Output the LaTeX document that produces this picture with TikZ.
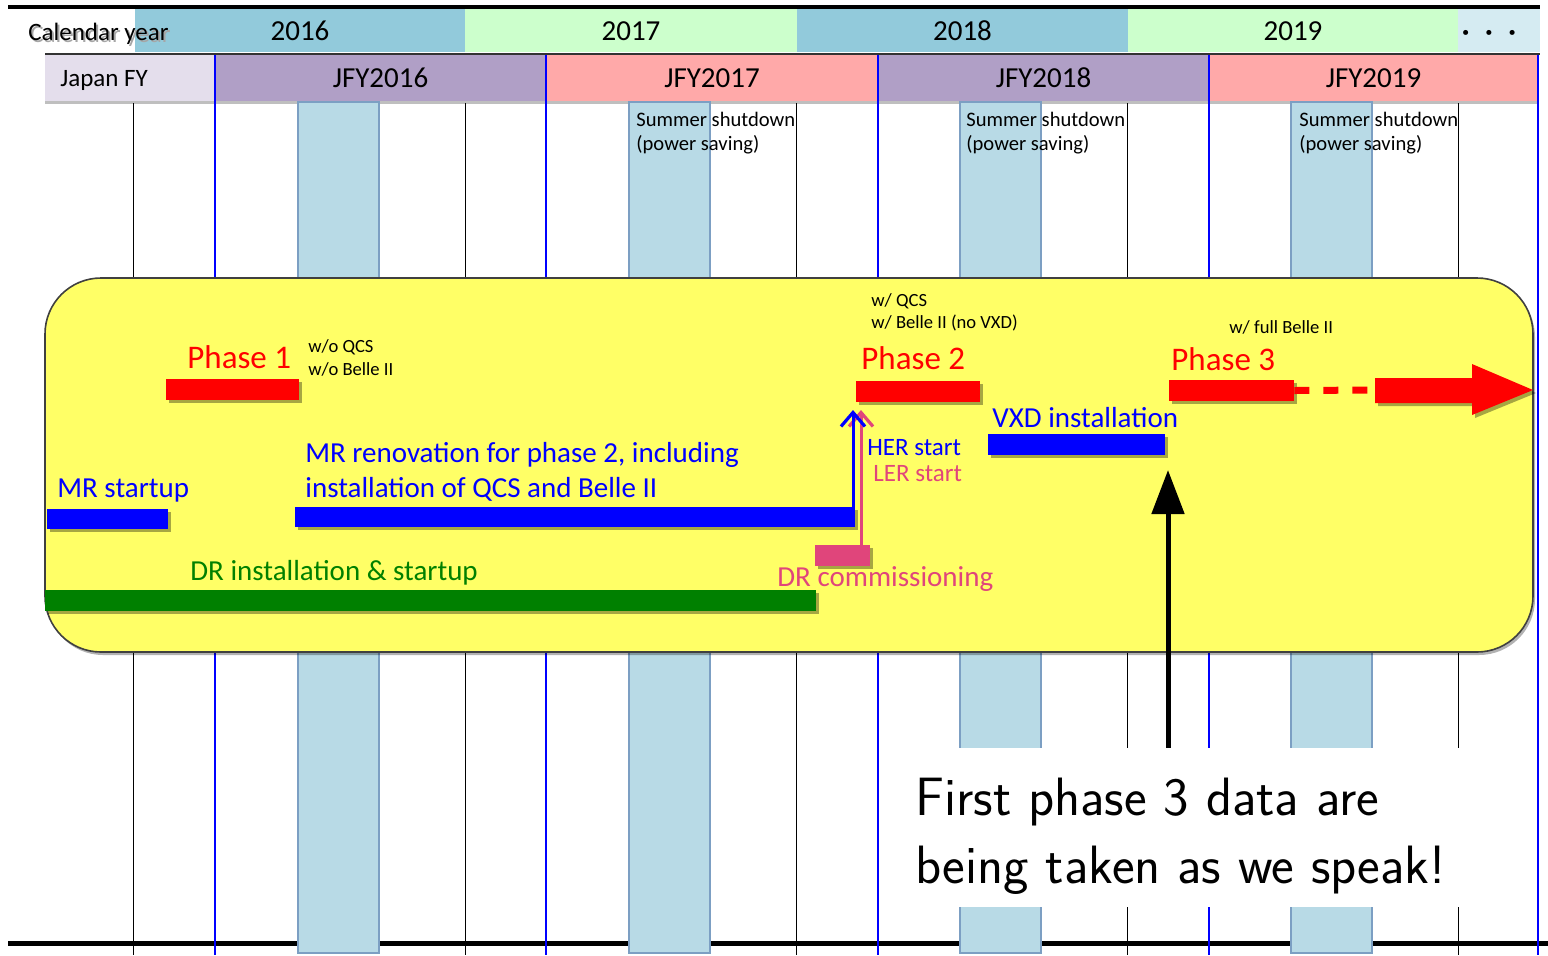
\documentclass[tikz,border=0pt]{standalone}
\usepackage{fontspec}
\setmainfont{Carlito}
\usetikzlibrary{arrows.meta,shadows,fit}
\definecolor{yearblue}{HTML}{92CADB}
\definecolor{yeargreen}{HTML}{CCFFCC}
\definecolor{dotsblue}{HTML}{D5EBF2}
\definecolor{fylav}{HTML}{E4DEEC}
\definecolor{fypurple}{HTML}{B09FC6}
\definecolor{fypink}{HTML}{FFA9A9}
\definecolor{summerfill}{HTML}{B8DAE6}
\definecolor{summerdraw}{HTML}{7C9FC3}
\definecolor{boxyellow}{HTML}{FFFF66}
\definecolor{ddpink}{HTML}{E0457B}
\definecolor{ddgreen}{HTML}{008000}
\tikzset{
  lbl/.style={anchor=base west, inner sep=0pt},
  cell/.style={inner sep=0pt, draw=none},
  bar/.style={inner sep=0pt, draw=none, drop shadow={shadow xshift=1.5pt, shadow yshift=-1.5pt, opacity=0.35, fill=black}},
  summer/.style={fill=summerfill, draw=summerdraw, line width=0.6pt},
  gridblack/.style={black, line width=0.5pt},
  gridblue/.style={blue, line width=1.4pt},
  bigtxt/.style={font=\fontsize{14.5}{17}\selectfont},
  phasetxt/.style={red, font=\fontsize{16.5}{19}\selectfont},
  smalltxt/.style={font=\fontsize{9.3}{11}\selectfont},
  startarrow/.style={line width=1.5pt, -{Straight Barb[length=7pt,width=12pt,line width=1.6pt]}},
}
\begin{document}
\begin{tikzpicture}[x=0.5pt,y=-0.5pt]
\useasboundingbox (0,0) rectangle (1548,955);
% header row 1
\node[cell, fill=yearblue, fit={(135,8) (465,52)}] (y2016) {};
\node[cell, fill=yeargreen, fit={(465,8) (797,52)}] (y2017) {};
\node[cell, fill=yearblue, fit={(797,8) (1128,52)}] (y2018) {};
\node[cell, fill=yeargreen, fit={(1128,8) (1458,52)}] (y2019) {};
\node[cell, fill=dotsblue, fit={(1458,8) (1540,52)}] (ymore) {};
\draw[line width=2pt] (8,7) -- (1540,7);
\node[lbl, text=black!35, font=\fontsize{12.5}{14}\selectfont] at (30,42) {Calendar year};
\node[lbl, font=\fontsize{12.5}{14}\selectfont] (callbl) at (28,40) {Calendar year};
\foreach \n in {2016,2017,2018,2019}
  \node[anchor=base, inner sep=0pt, font=\fontsize{14.5}{16}\selectfont] at (y\n.center |- 0,40) {\n};
\node[anchor=base, inner sep=0pt, font=\bfseries\fontsize{13.5}{15}\selectfont] at (1489,40) {·\hspace{8pt}·\hspace{8pt}·};
% header row 2
\node[cell, fill=fylav, fit={(45,55) (215,101)}] (fylbl) {};
\node[cell, fill=fypurple, fit={(215,55) (546,101)}] (jfy2016) {};
\node[cell, fill=fypink, fit={(546,55) (878,101)}] (jfy2017) {};
\node[cell, fill=fypurple, fit={(878,55) (1209,101)}] (jfy2018) {};
\node[cell, fill=fypink, fit={(1209,55) (1538,101)}] (jfy2019) {};
\draw[black!80, line width=1.2pt] (45,54) -- (1540,54);
\draw[black!25, line width=1.2pt] (45,102.5) -- (1538,102.5);
\node[lbl, font=\fontsize{12.5}{15}\selectfont] at (60,86) {Japan FY};
\foreach \n in {2016,2017,2018,2019}
  \node[anchor=base, inner sep=0pt, font=\fontsize{14.5}{16}\selectfont] at (jfy\n.center |- 0,87) {JFY\n};
% bottom line
\draw[line width=2.5pt] (8,943) -- (1548,943);
% summer shutdown blocks
\foreach \x in {298,629,960,1291}
  \draw[summer] (\x,102) rectangle (\x+81,953);
% grid lines
\foreach \x in {133,465,796,1127,1458}
  \draw[gridblack] (\x,103) -- (\x,955);
\foreach \x in {215,546,878,1209,1538}
  \draw[gridblue] (\x,55) -- (\x,955);
\foreach \x in {636,966,1299} {
  \node[lbl, font=\fontsize{10.3}{12}\selectfont] at (\x,126) {Summer shutdown};
  \node[lbl, font=\fontsize{10.3}{12}\selectfont] at (\x,150) {(power saving)};
}
% yellow period box
\node[fit={(45,278) (1533,652)}, inner sep=0pt, rounded corners=28pt, fill=boxyellow, draw=black!75, line width=0.8pt,
  drop shadow={shadow xshift=1pt, shadow yshift=-1.5pt, opacity=0.3, fill=black}] (period) {};
% bars
\node[bar, fill=red, fit={(166,379) (299,400)}] (p1bar) {};
\node[bar, fill=blue, fit={(47,509) (168,529)}] (mrsbar) {};
\node[bar, fill=blue, fit={(295,507) (855,527)}] (mrbar) {};
\node[bar, fill=ddgreen, fit={(45,590) (816,611)}] (drbar) {};
\node[bar, fill=ddpink, fit={(815,545) (870,566)}] (drcbar) {};
\node[bar, fill=red, fit={(856,381) (980,402)}] (p2bar) {};
\node[bar, fill=blue, fit={(988,434) (1165,455)}] (vxdbar) {};
\node[bar, fill=red, fit={(1169,380) (1294,401)}] (p3bar) {};
\fill[red, drop shadow={shadow xshift=1.5pt, shadow yshift=-1.5pt, opacity=0.35, fill=black}]
  (1375,378) -- (1472,378) -- (1472,364) -- (1533,390) -- (1472,415) -- (1472,403) -- (1375,403) -- cycle;
\coordinate (futurearrow) at (1375,390);
\draw[red, line width=3.5pt, dash pattern=on 7.5pt off 7pt] (p3bar.east) -- (futurearrow);
% texts in box
\node[lbl, phasetxt] at (187,368) {Phase 1};
\node[lbl, smalltxt] at (308,352) {w/o QCS};
\node[lbl, smalltxt] at (308,375) {w/o Belle II};
\node[lbl, blue, bigtxt] at (57,497) {MR startup};
\node[lbl, blue, bigtxt] at (305,462) {MR renovation for phase 2, including};
\node[lbl, blue, bigtxt] at (305,497) {installation of QCS and Belle II};
\node[lbl, ddgreen, bigtxt] at (190,580) {DR installation \& startup};
\node[lbl, phasetxt] at (861,369) {Phase 2};
\node[lbl, smalltxt] at (871,306) {w/ QCS};
\node[lbl, smalltxt] at (871,328) {w/ Belle II (no VXD)};
\node[lbl, blue, font=\fontsize{12.5}{15}\selectfont] at (867,455) {HER start};
\node[lbl, ddpink, font=\fontsize{12.5}{15}\selectfont] at (873,481) {LER start};
\node[lbl, blue, bigtxt] at (992,427) {VXD installation};
\node[lbl, phasetxt] at (1171,370) {Phase 3};
\node[lbl, smalltxt] at (1229,333) {w/ full Belle II};
\node[lbl, ddpink, bigtxt] at (777,586) {DR commissioning};
% start arrows
\coordinate (herstart) at (853,410);
\coordinate (lerstart) at (861,410);
\draw[ddpink, startarrow] (drcbar.north -| lerstart) -- (lerstart);
\draw[blue, startarrow] (mrbar.east -| herstart) -- (herstart);
% speech box
\node[fit={(905,748) (1470,907)}, inner sep=0pt, fill=white] (speechbox) {};
\node[lbl, font=\sffamily\fontsize{27}{32}\selectfont] at (915,815) {First phase 3 data are};
\node[lbl, font=\sffamily\fontsize{27}{32}\selectfont] at (915,883) {being taken as we speak!};
\coordinate (vxdtarget) at (1168,470);
\draw[line width=2.5pt, -{Triangle[length=22pt,width=16pt]}] (speechbox.north -| vxdtarget) -- (vxdtarget);
\end{tikzpicture}
\end{document}
